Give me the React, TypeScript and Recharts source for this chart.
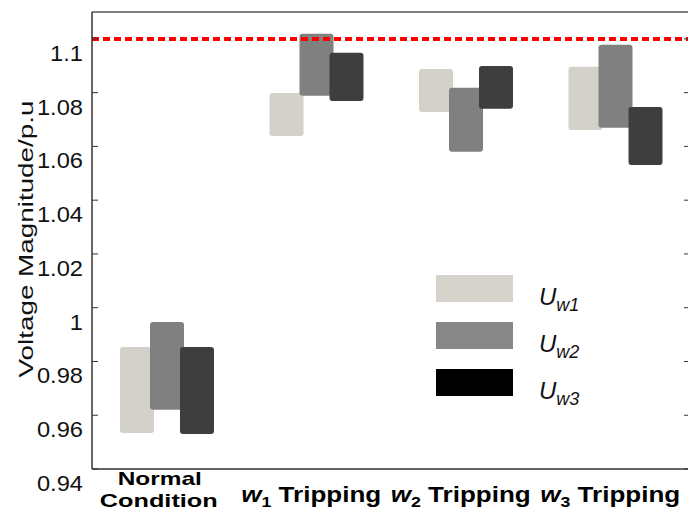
import { BarChart, Bar, XAxis, YAxis, ReferenceLine } from 'recharts'

const categories = ['Normal Condition', 'w1 Tripping', 'w2 Tripping', 'w3 Tripping']

// [low, high] of each floating bar, p.u.
const uw1 = [
  [0.9534, 0.9854],
  [1.0639, 1.0799],
  [1.0728, 1.0888],
  [1.0661, 1.0896],
]
const uw2 = [
  [0.962, 0.9947],
  [1.0788, 1.1019],
  [1.058, 1.0818],
  [1.0669, 1.0978],
]
const uw3 = [
  [0.953, 0.9854],
  [1.0769, 1.0948],
  [1.074, 1.0899],
  [1.0531, 1.0747],
]

const yTicks = [0.94, 0.96, 0.98, 1, 1.02, 1.04, 1.06, 1.08, 1.1]
const limitValue = 1.1

const data = categories.map((name, i) => ({ name, uw1: uw1[i], uw2: uw2[i], uw3: uw3[i] }))

const series = [
  { key: 'uw1', sub: 'w1', fill: '#d4d1ca', legend: '#d6d3cc' },
  { key: 'uw2', sub: 'w2', fill: '#808080', legend: '#878787' },
  { key: 'uw3', sub: 'w3', fill: '#3e3e3e', legend: '#000000' },
]

const FONT = '"Liberation Sans", Arial, sans-serif'

// labels in the source are a bit wider than the font, so stretch them a little
const YTick = ({ x, y, payload }: any) => (
  <text
    transform={`translate(${x}, ${y + 22}) scale(1.1, 1)`}
    textAnchor="end"
    fontFamily={FONT}
    fontSize={21.5}
    fill="#111"
  >
    {String(payload.value)}
  </text>
)

const XTick = ({ x, y, payload }: any) => {
  const v: string = payload.value
  if (v === 'Normal Condition') {
    return (
      <g fontFamily={FONT} fontWeight="bold" fontSize={19} fill="#000">
        <text x={x - 7} y={y + 8} textAnchor="middle" textLength={84} lengthAdjust="spacingAndGlyphs">
          Normal
        </text>
        <text x={x - 8} y={y + 30} textAnchor="middle" textLength={118} lengthAdjust="spacingAndGlyphs">
          Condition
        </text>
      </g>
    )
  }
  const [w, rest] = v.split(' ')
  return (
    <text
      x={x - 5}
      y={y + 25}
      textAnchor="middle"
      fontFamily={FONT}
      fontWeight="bold"
      fontSize={22}
      fill="#000"
      textLength={140}
      lengthAdjust="spacingAndGlyphs"
    >
      <tspan fontStyle="italic">{w[0]}</tspan>
      <tspan fontSize={15} dy={5}>{w.slice(1)}</tspan>
      <tspan dy={-5}>{' ' + rest}</tspan>
    </text>
  )
}

const YLabel = ({ viewBox }: any) => {
  const cy = viewBox.y + viewBox.height / 2 - 1.5
  const cx = 33
  return (
    <text
      x={cx}
      y={cy}
      transform={`rotate(-90, ${cx}, ${cy})`}
      textAnchor="middle"
      fontFamily={FONT}
      fontSize={21}
      fill="#111"
      textLength={277}
      lengthAdjust="spacingAndGlyphs"
    >
      Voltage Magnitude/p.u
    </text>
  )
}

export default function App() {
  return (
    <div
      style={{
        position: 'absolute',
        left: 0,
        top: 0,
        width: 688,
        height: 519,
        overflow: 'hidden',
        background: '#fff',
      }}
    >
      <BarChart
        width={700}
        height={519}
        data={data}
        margin={{ top: 12, right: 0, bottom: 0, left: 0 }}
        barSize={34}
        barGap={-4}
      >
        <XAxis
          dataKey="name"
          height={50}
          tickLine={false}
          axisLine={{ stroke: '#333', strokeWidth: 1.5 }}
          tick={<XTick />}
          interval={0}
        />
        <YAxis
          yAxisId="left"
          width={92}
          domain={[0.94, 1.11]}
          ticks={yTicks}
          allowDataOverflow
          tickSize={-6}
          tickMargin={15}
          tickLine={{ stroke: '#333' }}
          axisLine={{ stroke: '#333', strokeWidth: 1.5 }}
          tick={<YTick />}
          label={<YLabel />}
        />
        <YAxis
          yAxisId="right"
          orientation="right"
          width={10}
          domain={[0.94, 1.11]}
          ticks={yTicks}
          allowDataOverflow
          tickSize={-6}
          tick={() => <g />}
          tickLine={{ stroke: '#333' }}
          axisLine={{ stroke: '#555', strokeWidth: 1.5 }}
        />
        <ReferenceLine yAxisId="left" y={1.11} stroke="#555" strokeWidth={1.5} />
        {series.map((s) => (
          <Bar
            key={s.key}
            yAxisId="left"
            dataKey={s.key}
            fill={s.fill}
            radius={3}
            isAnimationActive={false}
          />
        ))}
        <ReferenceLine
          yAxisId="left"
          y={limitValue}
          stroke="#ff0000"
          strokeWidth={4}
          strokeDasharray="7 4"
        />
      </BarChart>

      <div style={{ position: 'absolute', left: 436, top: 275, fontFamily: FONT }}>
        {series.map((s) => (
          <div key={s.key} style={{ display: 'flex', alignItems: 'flex-start', height: 47 }}>
            <div style={{ width: 77, height: 27, background: s.legend }} />
            <span
              style={{
                marginLeft: 26,
                marginTop: 10,
                fontSize: 24,
                fontStyle: 'italic',
                lineHeight: '24px',
                color: '#111',
              }}
            >
              U
              <sub style={{ fontSize: 18, verticalAlign: -6 }}>{s.sub}</sub>
            </span>
          </div>
        ))}
      </div>
    </div>
  )
}
